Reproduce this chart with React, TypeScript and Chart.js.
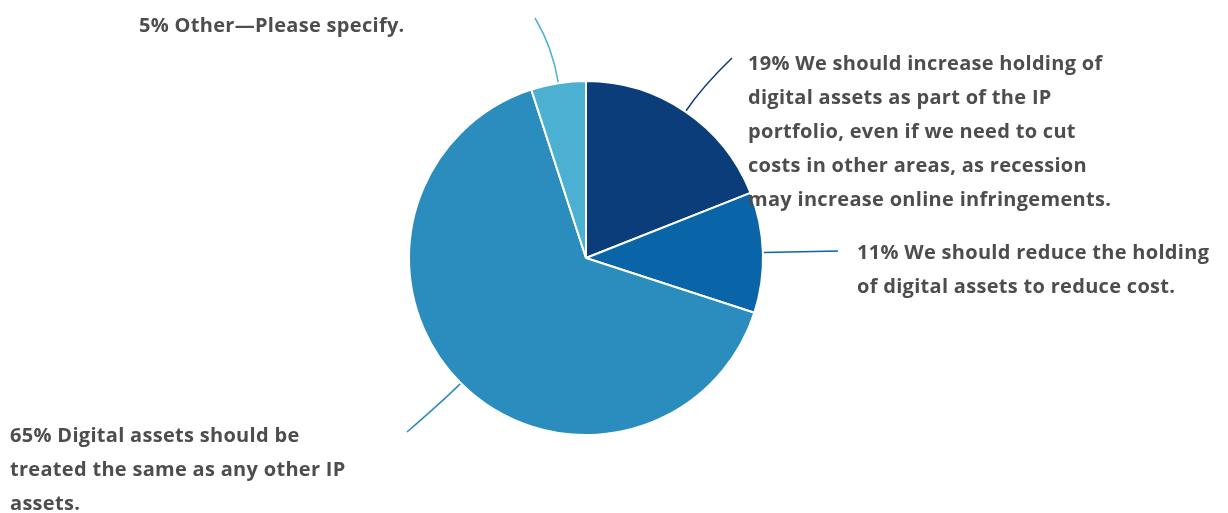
import React, { useEffect, useRef } from "react";
import { Chart, registerables } from "chart.js";

Chart.register(...registerables);

const categories: string[] = [
  "We should increase holding of digital assets as part of the IP portfolio, even if we need to cut costs in other areas, as recession may increase online infringements.",
  "We should reduce the holding of digital assets to reduce cost.",
  "Digital assets should be treated the same as any other IP assets.",
  "Other—Please specify.",
];
const values: number[] = [19, 11, 65, 5];
const colors: string[] = ["#0b3d7b", "#0a64a8", "#2b8cbe", "#4bb0d2"];

// label text lines (pre-wrapped as in the reference)
const labelLines: string[][] = [
  [
    "19% We should increase holding of",
    "digital assets as part of the IP",
    "portfolio, even if we need to cut",
    "costs in other areas, as recession",
    "may increase online infringements.",
  ],
  ["11% We should reduce the holding", "of digital assets to reduce cost."],
  ["65% Digital assets should be", "treated the same as any other IP", "assets."],
  ["5% Other—Please specify."],
];

// layout for labels (positions, not data)
const labelLayout = [
  { x: 748, y: 64, endX: 732, endY: 58, ctrl: 30 },
  { x: 857, y: 253, endX: 838, endY: 251, ctrl: 0 },
  { x: 10, y: 436, endX: 407, endY: 432, ctrl: 22 },
  { x: 139, y: 26, endX: 535, endY: 18, ctrl: 35 },
];

const LINE_H = 34;
const FONT = "bold 20px 'Open Sans', 'Noto Sans', sans-serif";
const TEXT_COLOR = "#4d4d4d";

const labelPlugin = {
  id: "leaderLabels",
  afterDraw(chart: any) {
    const ctx = chart.ctx as CanvasRenderingContext2D;
    const meta = chart.getDatasetMeta(0);
    ctx.save();
    meta.data.forEach((arc: any, i: number) => {
      const p = arc.getProps(["x", "y", "startAngle", "endAngle", "outerRadius"], true);
      const mid = (p.startAngle + p.endAngle) / 2;
      const r = p.outerRadius + 1;
      const sx = p.x + Math.cos(mid) * r;
      const sy = p.y + Math.sin(mid) * r;
      const L = labelLayout[i];
      const cx = sx + Math.cos(mid) * L.ctrl;
      const cy = sy + Math.sin(mid) * L.ctrl;
      ctx.beginPath();
      ctx.moveTo(sx, sy);
      ctx.quadraticCurveTo(cx, cy, L.endX, L.endY);
      ctx.strokeStyle = colors[i];
      ctx.lineWidth = 1.5;
      ctx.stroke();

      ctx.font = FONT;
      (ctx as any).letterSpacing = "0.3px";
      ctx.fillStyle = TEXT_COLOR;
      ctx.textAlign = "left";
      ctx.textBaseline = "middle";
      labelLines[i].forEach((line, k) => {
        ctx.fillText(line, L.x, L.y + k * LINE_H);
      });
    });
    ctx.restore();
  },
};

export default function App() {
  const ref = useRef<HTMLCanvasElement | null>(null);
  useEffect(() => {
    if (!ref.current) return;
    const chart = new Chart(ref.current, {
      type: "pie",
      data: {
        labels: categories,
        datasets: [
          {
            data: values,
            backgroundColor: colors,
            borderColor: "#ffffff",
            borderWidth: 2,
          },
        ],
      },
      options: {
        animation: false,
        responsive: false,
        rotation: 0,
        layout: { padding: { left: 408, right: 464, top: 80, bottom: 77 } },
        plugins: {
          legend: { display: false },
          tooltip: { enabled: false },
        },
      },
      plugins: [labelPlugin],
    });
    return () => chart.destroy();
  }, []);
  return (
    <div style={{ position: "fixed", left: 0, top: 0, width: 1228, height: 513, background: "#fff" }}>
      <canvas ref={ref} width={1228} height={513} />
    </div>
  );
}
